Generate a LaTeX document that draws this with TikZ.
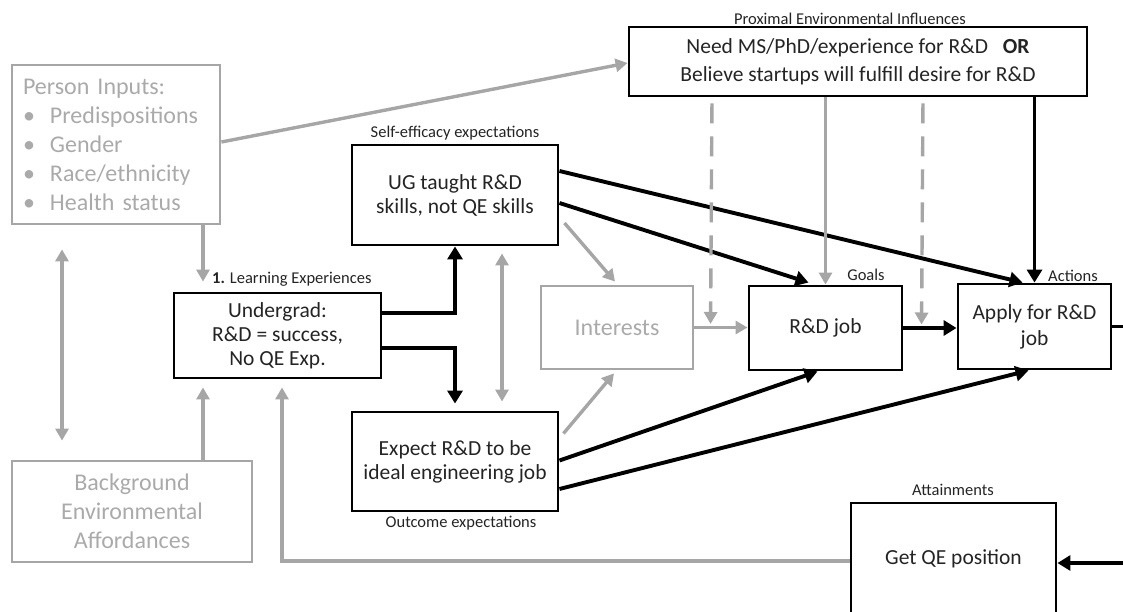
\documentclass[tikz,border=0pt]{standalone}
\usepackage{fontspec}
\setmainfont{Carlito}
\usetikzlibrary{arrows.meta,calc}

\definecolor{lgray}{RGB}{166,166,166}
\definecolor{gtxt}{RGB}{170,170,170}
\definecolor{txt}{RGB}{36,36,36}

\tikzset{
  blk/.style={draw=black, line width=2.9pt, text=txt, align=center, inner sep=0pt,
              font=\fontsize{21.5}{24}\selectfont},
  gbox/.style={draw=lgray, line width=2.8pt, text=gtxt, inner sep=0pt,
               font=\fontsize{24}{29}\selectfont},
  lbl/.style={text=txt, inner sep=0pt, font=\fontsize{16.5}{19}\selectfont},
  bconn/.style={draw=black, line width=3.9pt, -{Triangle[length=13pt,width=15pt]}},
  gconn/.style={draw=lgray, line width=3.4pt, -{Triangle[length=12pt,width=13pt]}},
  gdash/.style={gconn, dash pattern=on 20pt off 13pt, dash phase=27pt},
}

\begin{document}
\begin{tikzpicture}[x=1pt, y=-1pt]
\useasboundingbox (0,0) rectangle (1123,612);
\clip (0,0) rectangle (1123,612);

% boxes
\node[gbox, minimum width=208pt, minimum height=159pt, text width=186pt, align=left]
  (pin) at (116,144.5)
  {Person Inputs:\\
   \makebox[27pt][l]{•}Predispositions\\
   \makebox[27pt][l]{•}Gender\\
   \makebox[27pt][l]{•}Race/ethnicity\\
   \makebox[27pt][l]{•}Health status};
\node[gbox, minimum width=240pt, minimum height=101pt, align=center]
  (bg) at (132,511.5) {Background\\Environmental\\Affordances};
\node[blk, minimum width=207pt, minimum height=85pt]
  (und) at (277.5,335.5) {Undergrad:\\R\&D = success,\\No QE Exp.};
\node[blk, minimum width=206pt, minimum height=100pt]
  (ug) at (455,195) {UG taught R\&D\\skills, not QE skills};
\node[blk, minimum width=206pt, minimum height=99pt]
  (exp) at (455,461.5) {Expect R\&D to be\\ideal engineering job};
\node[gbox, minimum width=152pt, minimum height=83pt]
  (int) at (617,327.5) {Interests};
\node[blk, minimum width=458pt, minimum height=69pt, font=\fontsize{21.5}{28}\selectfont]
  (prox) at (858,61.5)
  {Need MS/PhD/experience for R\&D\hspace{10pt} \textbf{OR}\\Believe startups will fulfill desire for R\&D};
\node[blk, minimum width=153pt, minimum height=84pt]
  (rd) at (825.5,328) {R\&D job};
\node[blk, minimum width=153pt, minimum height=85pt, font=\fontsize{21.5}{26}\selectfont]
  (app) at (1034.5,326.5) {Apply for R\&D\\job};
\node[blk, minimum width=205pt, minimum height=111pt]
  (qe) at (953.5,558.5) {Get QE position};

% labels
\node[lbl] (lprox) at (850,19) {Proximal Environmental Influences};
\node[lbl] (lse) at (455,133) {Self-efficacy expectations};
\node[lbl] (loe) at (461,523) {Outcome expectations};
\node[lbl, anchor=west] (lle) at (212,279) {\textbf{1.} Learning Experiences};
\node[lbl] (lgoal) at (866,275) {Goals};
\node[lbl] (lact) at (1073,276) {Actions};
\node[lbl] (latt) at (953,490) {Attainments};

% person inputs and background
\draw[gconn] ($(pin.east)+(0,-2.5)$) -- ($(prox.west)+(0,1.5)$);
\draw[gconn] ($(pin.south)+(87,0)$) -- ($(und.north)+(-74.5,-10)$);
\draw[gconn, {Triangle[length=12pt,width=13pt]}-{Triangle[length=12pt,width=13pt]}]
  ($(pin.south)+(-54,24)$) -- ($(bg.north)+(-70,-19)$);
\draw[gconn] ($(bg.north)+(71,0)$) -- ($(und.south)+(-74.5,8)$);
\draw[gconn] ($(qe.west)+(0,2.5)$) -| ($(und.south)+(4.5,8)$);

% learning experiences to expectations
\draw[bconn] ($(und.east)+(0,-22.5)$) -| (ug.south);
\draw[bconn] ($(und.east)+(0,12.5)$) -| ($(exp.north)+(0,-7)$);
\draw[gconn, {Triangle[length=12pt,width=13pt]}-{Triangle[length=12pt,width=13pt]}]
  ($(ug.south)+(47,7)$) -- ($(exp.north)+(47,-9)$);

% expectations to interests, goals and actions
\draw[gconn] ($(ug.east)+(5,28)$) -- ($(int.north)+(-2,-3)$);
\draw[gconn] ($(exp.east)+(4,-28)$) -- ($(int.south)+(-3,3)$);
\draw[bconn] ($(ug.east)+(0,8)$) -- ($(rd.north)+(-17,-2)$);
\draw[bconn] ($(ug.east)+(0,-24)$) -- ($(app.north)+(-12,0)$);
\draw[bconn] ($(exp.east)+(0,-1)$) -- ($(rd.south)+(-8,0)$);
\draw[bconn] ($(exp.east)+(0,27.5)$) -- ($(app.south)+(-6,0)$);

% interests -> goals -> actions
\draw[gconn] (int.east) -- (int.east -| rd.west);
\draw[bconn] (rd.east) -- (rd.east -| app.west);
\draw[draw=black, line width=3.9pt] (app.east) -- ++(14,0);
\draw[bconn] ($(qe.east)+(70,4.5)$) -- ($(qe.east)+(0,4.5)$);

% proximal influences
\draw[gdash] ($(prox.south)+(-146,0)$) -- ($(rd.west)+(-37,-4)$);
\draw[gconn] (rd.north |- prox.south) -- (rd.north);
\draw[gdash] ($(prox.south)+(65,0)$) -- ($(app.west)+(-35,-2)$);
\draw[bconn] (app.north |- prox.south) -- (app.north);
\end{tikzpicture}
\end{document}
